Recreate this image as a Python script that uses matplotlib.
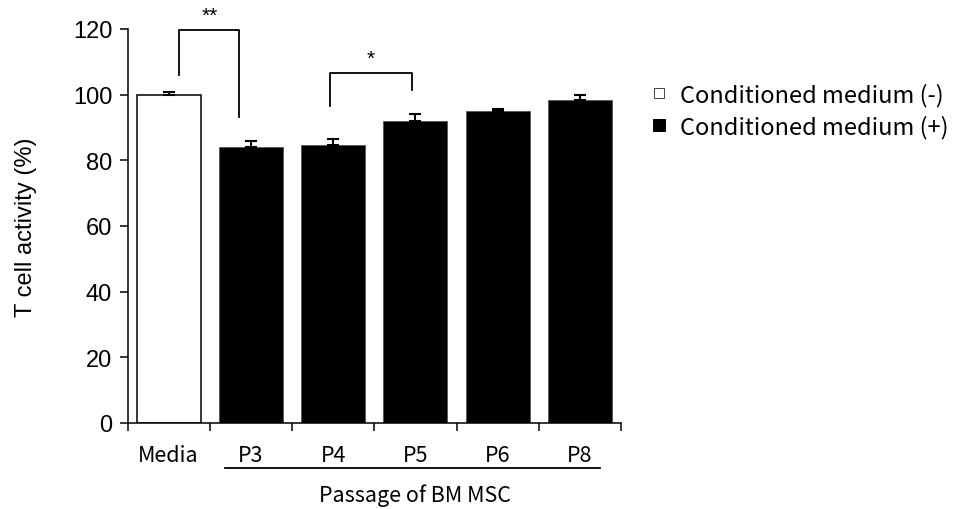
import matplotlib
matplotlib.use("Agg")
import matplotlib.pyplot as plt
from matplotlib.lines import Line2D

# Data
groups = ["Media", "P3", "P4", "P5", "P6", "P8"]
activity = [100.0, 84.0, 84.6, 91.9, 95.0, 98.4]
err_upper = [0.9, 1.9, 2.0, 2.1, 0.7, 1.4]
conditioned = [False, True, True, True, True, True]

# Significance brackets: (left x, right x, left foot, right foot, top, label)
brackets = [
    (0.13, 0.86, 106.0, 93.3, 119.7, "**"),
    (1.96, 2.96, 96.6, 101.4, 106.6, "*"),
]

legend_labels = ["Conditioned medium (-)", "Conditioned medium (+)"]
xlabel = "Passage of BM MSC"
ylabel = "T cell activity (%)"
yticks = [0, 20, 40, 60, 80, 100, 120]

KR = ["Noto Sans CJK KR", "DejaVu Sans"]
ARIAL = ["Liberation Sans", "DejaVu Sans"]

fig = plt.figure(figsize=(9.57, 5.10), dpi=100)
ax = fig.add_axes([127.5 / 957, 86 / 510, (621 - 127.5) / 957, (424 - 30) / 510])

x = list(range(len(groups)))
faces = ["black" if c else "white" for c in conditioned]
edges = ["#555555" if c else "black" for c in conditioned]
lws = [0.6 if c else 1.1 for c in conditioned]
ax.bar(x, activity, width=0.78, color=faces, edgecolor=edges, linewidth=lws, zorder=2)
ax.errorbar(x, activity, yerr=[[0] * len(x), err_upper], fmt="none",
            ecolor="black", elinewidth=1.5, capsize=4.5, capthick=1.5, zorder=3)

ax.set_xlim(-0.5, len(groups) - 0.5)
ax.set_ylim(0, 120)
ax.set_yticks(yticks)
ax.set_yticklabels([str(v) for v in yticks], fontfamily=ARIAL, fontsize=17)
ax.set_xticks([i - 0.5 for i in range(len(groups) + 1)])
ax.set_xticklabels([])
ax.tick_params(axis="y", direction="out", length=6, width=1.1, pad=5)
ax.tick_params(axis="x", direction="out", length=6, width=1.1)
for s in ("top", "right"):
    ax.spines[s].set_visible(False)
for s in ("left", "bottom"):
    ax.spines[s].set_linewidth(1.1)

# Group labels centred under each bar
for i, g in enumerate(groups):
    ax.text(i, -9.8, g, ha="center", va="center", fontfamily=KR, fontsize=15.5)

# Line grouping the MSC passages
ax.plot([0.68, 5.25], [-13.6, -13.6], color="black", lw=1.3, clip_on=False)
ax.text(3.0, -21.9, xlabel, ha="center", va="center", fontfamily=KR, fontsize=15.5)

ax.set_ylabel(ylabel, fontfamily=ARIAL, fontsize=17, labelpad=26)

# Significance brackets
for xl, xr, yl, yr, top, lab in brackets:
    ax.plot([xl, xl, xr, xr], [yl, top, top, yr], color="black", lw=1.3,
            clip_on=False, zorder=4)
    ax.text((xl + xr) / 2, top + 1.5, lab, ha="center", va="bottom",
            fontfamily=ARIAL, fontsize=15, clip_on=False)

handles = [
    Line2D([], [], marker="s", linestyle="none", markersize=7.5,
           markerfacecolor="white", markeredgecolor="#444444", markeredgewidth=0.7),
    Line2D([], [], marker="s", linestyle="none", markersize=8.5,
           markerfacecolor="black", markeredgecolor="black", markeredgewidth=0.7),
]
fig.legend(handles, legend_labels, loc="upper left",
           bbox_to_anchor=(650 / 957, 1 - 84 / 510), frameon=False,
           prop={"family": KR, "size": 17}, handlelength=0.8, handletextpad=0.45,
           labelspacing=0.33, borderaxespad=0, borderpad=0)

fig.savefig("out.png", dpi=100)
